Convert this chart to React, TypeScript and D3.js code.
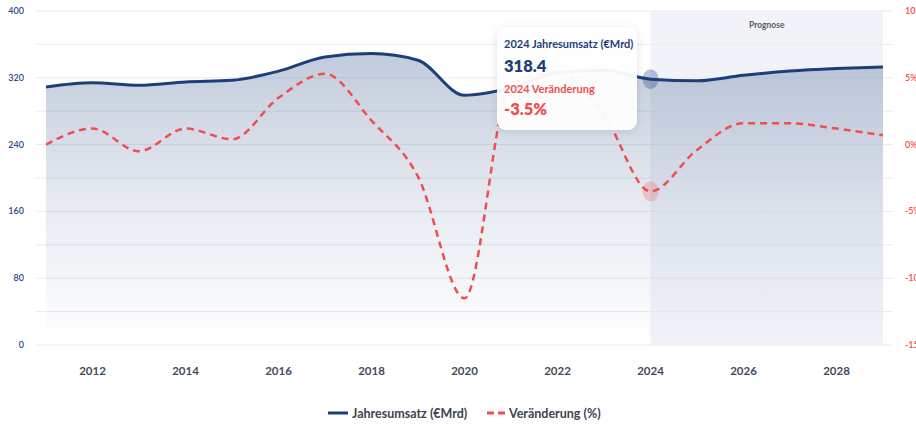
import * as d3 from 'd3';

const years = [2011, 2012, 2013, 2014, 2015, 2016, 2017, 2018, 2019, 2020, 2021, 2022, 2023, 2024, 2025, 2026, 2027, 2028, 2029];
const revenue = [309, 314, 311, 315, 317, 328, 345, 349, 341, 299, 308, 326, 329, 318.4, 316.5, 323, 328, 331, 333];
const change = [0.0, 1.2, -0.5, 1.2, 0.4, 3.5, 5.3, 1.8, -2.4, -11.5, 4.6, 5.4, 2.2, -3.5, -0.4, 1.6, 1.6, 1.2, 0.7];
const xTicks = [2012, 2014, 2016, 2018, 2020, 2022, 2024, 2026, 2028];
const leftTicks = [0, 80, 160, 240, 320, 400];
const rightTicks = [-15, -10, -5, 0, 5, 10];
const gridValues = [0, 40, 80, 120, 160, 200, 240, 280, 320, 360, 400];
const forecastStart = 2024;
const hoverYear = 2024;

const NAVY = '#1c3f7c';
const RED = '#f04e4e';
const FONT = 'Lato, "Open Sans", sans-serif';

const App = () => {
  const width = 916;
  const height = 425;
  const top = 11;
  const bottom = 345;

  const x = d3.scaleLinear().domain([2011, 2029]).range([46, 883]);
  const yL = d3.scaleLinear().domain([0, 400]).range([bottom, top]);
  const yR = d3.scaleLinear().domain([-15, 10]).range([bottom, top]);

  const revPts = years.map((yr, i) => [yr, revenue[i]] as [number, number]);
  const chgPts = years.map((yr, i) => [yr, change[i]] as [number, number]);

  const revLine = d3
    .line<[number, number]>()
    .x((d) => x(d[0]))
    .y((d) => yL(d[1]))
    .curve(d3.curveMonotoneX);

  const revArea = d3
    .area<[number, number]>()
    .x((d) => x(d[0]))
    .y0(bottom)
    .y1((d) => yL(d[1]))
    .curve(d3.curveMonotoneX);

  const chgLine = d3
    .line<[number, number]>()
    .x((d) => x(d[0]))
    .y((d) => yR(d[1]))
    .curve(d3.curveMonotoneX);

  const hi = years.indexOf(hoverYear);
  const revTop = yL(d3.max(revenue) as number);

  return (
    <svg width={width} height={height} style={{ position: 'absolute', left: 0, top: 0, fontFamily: FONT }}>
      <defs>
        <linearGradient id="areaFill" x1="0" y1={revTop} x2="0" y2={bottom} gradientUnits="userSpaceOnUse">
          <stop offset="0" stopColor={NAVY} stopOpacity={0.27} />
          <stop offset="0.5" stopColor={NAVY} stopOpacity={0.11} />
          <stop offset="1" stopColor={NAVY} stopOpacity={0} />
        </linearGradient>
        <filter id="shadow" x="-20%" y="-20%" width="140%" height="150%">
          <feDropShadow dx="0" dy="2" stdDeviation="4" floodColor="#1c2a4a" floodOpacity="0.12" />
        </filter>
      </defs>

      {/* forecast band */}
      <rect x={x(forecastStart)} y={top} width={x(2029) - x(forecastStart)} height={bottom - top} fill="#f1f3f8" />
      <text x={(x(forecastStart) + x(2029)) / 2} y={28} textAnchor="middle" fontSize={8.5} fontWeight={700} fill="#555b68">
        Prognose
      </text>

      {/* grid */}
      {gridValues.map((v) => (
        <line key={v} x1={36} x2={893} y1={yL(v)} y2={yL(v)} stroke="#e9ebef" strokeWidth={1} />
      ))}

      {/* left axis */}
      {leftTicks.map((v) => (
        <text key={v} x={24} y={yL(v) + 3} textAnchor="end" fontSize={9} fontWeight={600} fill="#2b4a8a">
          {v}
        </text>
      ))}
      {/* right axis (clipped at the page edge, as in the original) */}
      {rightTicks.map((v) => (
        <text key={v} x={905} y={yR(v) + 3} textAnchor="start" fontSize={9} fontWeight={600} fill={RED}>
          {v}%
        </text>
      ))}
      {/* x axis */}
      {xTicks.map((v) => (
        <text key={v} x={x(v)} y={375} textAnchor="middle" fontSize={11.5} fontWeight={700} fill="#454b58">
          {v}
        </text>
      ))}

      {/* series */}
      <path d={revArea(revPts) ?? ''} fill="url(#areaFill)" />
      <path d={revLine(revPts) ?? ''} fill="none" stroke={NAVY} strokeWidth={3} />
      <path d={chgLine(chgPts) ?? ''} fill="none" stroke={RED} strokeWidth={2.5} strokeDasharray="7 5" />

      {/* hover markers */}
      <ellipse cx={x(hoverYear)} cy={yL(revenue[hi])} rx={8} ry={10} fill={NAVY} fillOpacity={0.3} />
      <ellipse cx={x(hoverYear)} cy={yR(change[hi])} rx={8} ry={10} fill={RED} fillOpacity={0.25} />

      {/* tooltip */}
      <g filter="url(#shadow)">
        <rect x={497} y={27} width={140} height={103} rx={9} fill="#ffffff" fillOpacity={0.94} />
      </g>
      <text x={504} y={48} fontSize={11} fontWeight={700} fill={NAVY}>
        {hoverYear} Jahresumsatz (€Mrd)
      </text>
      <text x={504} y={72} fontSize={16.5} fontWeight={800} fill={NAVY}>
        {revenue[hi].toFixed(1)}
      </text>
      <text x={504} y={93} fontSize={11} fontWeight={700} fill={RED}>
        {hoverYear} Veränderung
      </text>
      <text x={504} y={115} fontSize={16.5} fontWeight={800} fill={RED}>
        {change[hi].toFixed(1)}%
      </text>

      {/* legend */}
      <line x1={328} x2={348} y1={413} y2={413} stroke={NAVY} strokeWidth={3} />
      <text x={352} y={418} fontSize={12.5} fontWeight={700} fill="#3d4350">
        Jahresumsatz (€Mrd)
      </text>
      <line x1={487} x2={505} y1={413} y2={413} stroke={RED} strokeWidth={3} strokeDasharray="7 4" />
      <text x={509} y={418} fontSize={12.5} fontWeight={700} fill="#3d4350">
        Veränderung (%)
      </text>
    </svg>
  );
};

export default App;
